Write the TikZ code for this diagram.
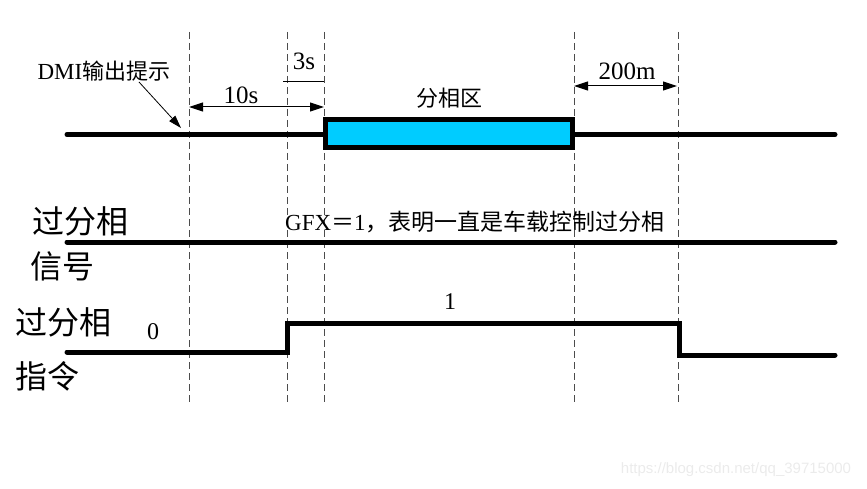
\documentclass[tikz,border=0pt]{standalone}
\usepackage{fontspec}
\setmainfont{Liberation Serif}
\setsansfont{Liberation Sans}
\newfontfamily\cjk{Noto Sans CJK SC}
\usetikzlibrary{arrows.meta}
\definecolor{zonecyan}{RGB}{0,204,255}
\begin{document}
\begin{tikzpicture}[x=1pt,y=-1pt,
  sig/.style={line width=5pt, line cap=round, line join=miter},
  guide/.style={dash pattern=on 7pt off 4pt, line width=0.9pt, draw=black!70},
  dimarrow/.style={line width=1pt, {Triangle[length=14pt,width=9pt]}-{Triangle[length=14pt,width=9pt]}},
  lbl/.style={inner sep=0pt, font=\fontsize{25}{28}\selectfont},
  big/.style={inner sep=0pt, font=\fontsize{32}{36}\selectfont\cjk},
  zone/.style={draw, fill=zonecyan, line width=5pt, minimum width=247pt, minimum height=28pt, inner sep=0pt},
]
\useasboundingbox (0,0) rectangle (867,489);

% guide lines
\foreach \n/\x in {g1/189,g2/287,g3/324,g4/574,g5/678}{
  \coordinate (\n t) at (\x,32);
  \coordinate (\n b) at (\x,405);
}
\draw[guide] (g1t) -- (g1b);
\draw[guide] (g2t) -- (g2b);
\draw[guide] (g3t) -- (g3b);
\draw[guide] (g4t) -- (g4b);
\draw[guide] (g5t) -- (g5b);

% row 1: track with neutral section
\coordinate (r1l) at (67,134.5);
\coordinate (r1r) at (835,134.5);
\draw[sig] (r1l) -- (r1r);
\node[zone] (zone) at (449,133.5) {};
\node[inner sep=0pt, font=\fontsize{22}{26}\selectfont\cjk] (tzone) at (449,98) {分相区};

% dimensions
\coordinate (d10a) at (189,107);
\coordinate (d10b) at (324,107);
\draw[dimarrow] (d10a) -- (d10b);
\node[lbl] (t10s) at (241,95) {10s};

\coordinate (d3a) at (283,81);
\coordinate (d3b) at (324,81);
\draw[line width=0.8pt] (d3a) -- (d3b);
\node[lbl] (t3s) at (304,61) {3s};

\coordinate (d200a) at (574,86);
\coordinate (d200b) at (677,86);
\draw[dimarrow] (d200a) -- (d200b);
\node[lbl] (t200m) at (627,71) {200m};

% DMI prompt
\node[inner sep=0pt, font=\fontsize{23}{26}\selectfont] (tdmi) at (104,71) {DMI{\cjk\fontsize{22}{26}\selectfont 输出提示}};
\coordinate (dmiend) at (181,128);
\draw[line width=0.8pt, -{Triangle[length=13pt,width=8pt]}] (139,82) -- (dmiend);

% row 2: signal
\node[big] (tsig1) at (80,221) {过分相};
\node[big] (tsig2) at (62,266) {信号};
\coordinate (r2l) at (67,242);
\coordinate (r2r) at (835,242);
\draw[sig] (r2l) -- (r2r);
\node[inner sep=0pt, anchor=west, font=\fontsize{23}{26}\selectfont] (tgfx) at (285,222) {GFX{\cjk ＝}1{\cjk ，表明一直是车载控制过分相}};

% row 3: command
\node[big] (tcmd1) at (64,322) {过分相};
\node[big] (tcmd2) at (48,376) {指令};
\node[inner sep=0pt, font=\fontsize{24}{27}\selectfont] (t0) at (153,332) {0};
\node[inner sep=0pt, font=\fontsize{24}{27}\selectfont] (t1) at (450,302) {1};
\coordinate (c0) at (67,352);
\coordinate (c1) at (287,352);
\coordinate (c2) at (287,323);
\coordinate (c3) at (679,323);
\coordinate (c4) at (679,355);
\coordinate (c5) at (835,355);
\draw[sig] (c0) -- (c1) -- (c2) -- (c3) -- (c4) -- (c5);

% watermark
\node[inner sep=0pt, font=\fontsize{15}{17}\selectfont\sffamily, text=black!8] (wm) at (736,470) {https://blog.csdn.net/qq\_39715000};
\end{tikzpicture}
\end{document}
